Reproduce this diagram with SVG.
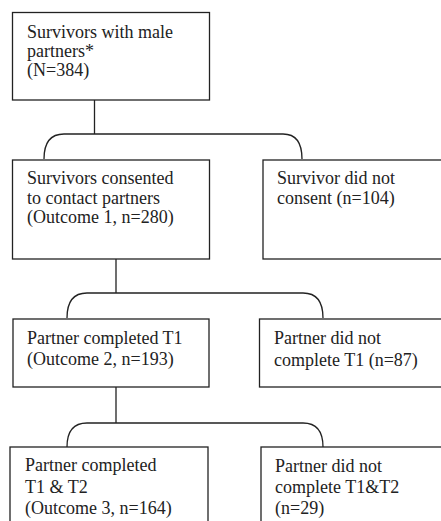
<svg xmlns="http://www.w3.org/2000/svg" width="441" height="521" viewBox="0 0 441 521">
<style>
.b{fill:#fff;stroke:#222;stroke-width:1.3}
.c{fill:none;stroke:#222;stroke-width:1.3}
</style>
<rect width="441" height="521" fill="#fff"/>
<g id="connectors">
<path class="c" d="M94.5 100V134M44 159Q44 134 64 134H283Q302 134 302 159"/>
<path class="c" d="M116 259V293M67 318Q67 293 87 293H303Q323 293 323 318"/>
<path class="c" d="M116 387V423M67 447Q67 423 87 423H303Q323 423 323 447"/>
</g>
<g font-family="Liberation Serif, Times New Roman, serif" font-size="18" fill="#222">
<g id="n1"><rect class="b" x="12.5" y="12.5" width="197" height="87.5"/>
<text x="27" y="38">Survivors with male</text><text x="27" y="57">partners*</text><text x="27" y="76">(N=384)</text></g>
<g id="n2"><rect class="b" x="12.5" y="160" width="197" height="99"/>
<text x="27" y="184">Survivors consented</text><text x="27" y="204">to contact partners</text><text x="27" y="223">(Outcome 1, n=280)</text></g>
<g id="n3"><rect class="b" x="263" y="160" width="190" height="99"/>
<text x="277" y="184">Survivor did not</text><text x="277" y="204">consent (n=104)</text></g>
<g id="n4"><rect class="b" x="13" y="319" width="196" height="68"/>
<text x="27" y="344">Partner completed T1</text><text x="27" y="365">(Outcome 2, n=193)</text></g>
<g id="n5"><rect class="b" x="259.5" y="319" width="190" height="68"/>
<text x="274" y="344">Partner did not</text><text x="274" y="366">complete T1 (n=87)</text></g>
<g id="n6"><rect class="b" x="10" y="447" width="198" height="90"/>
<text x="25" y="471">Partner completed</text><text x="25" y="493">T1 &amp; T2</text><text x="25" y="514">(Outcome 3, n=164)</text></g>
<g id="n7"><rect class="b" x="261" y="447" width="190" height="90"/>
<text x="275" y="472">Partner did not</text><text x="275" y="493">complete T1&amp;T2</text><text x="275" y="514">(n=29)</text></g>
</g>
</svg>
